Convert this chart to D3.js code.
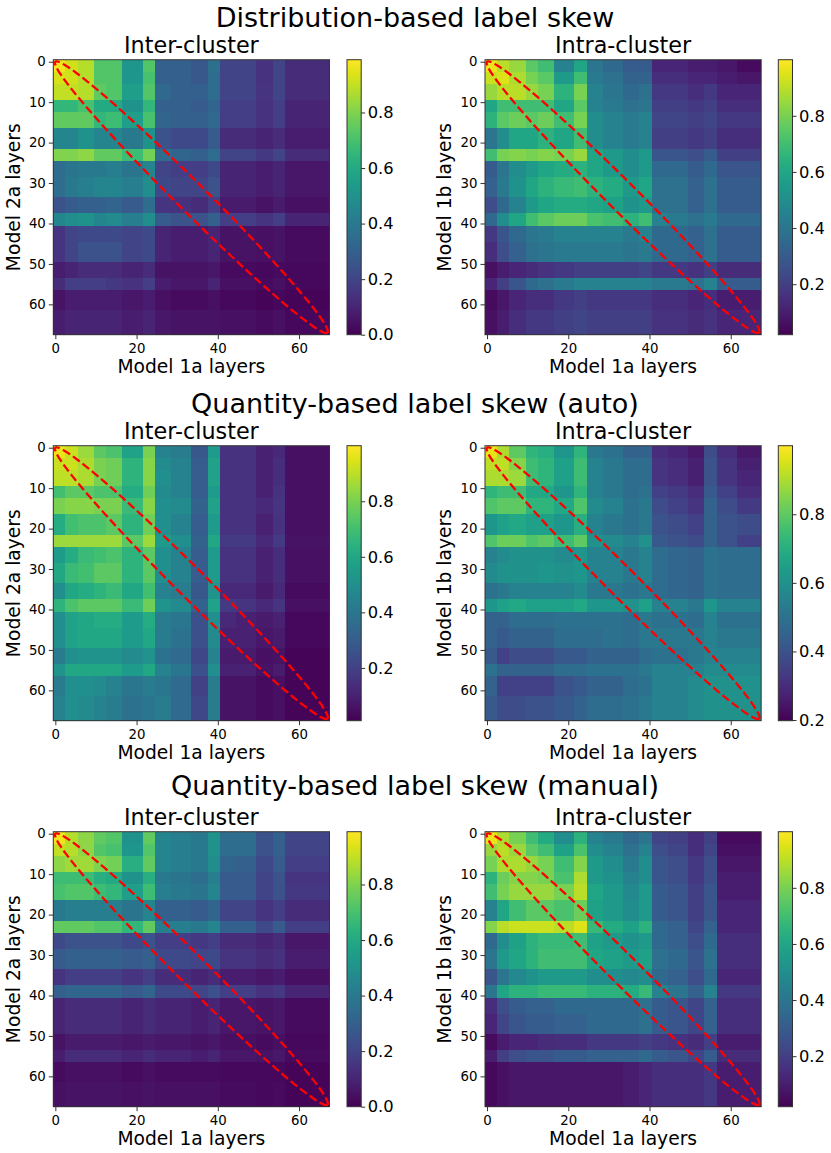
<!DOCTYPE html>
<meta charset="utf-8">
<style>
body { margin: 0; background: #fff; }
svg { font-family: "DejaVu Sans", sans-serif; }
.tick line { stroke: #333; }
.tick text { fill: #000; }
</style>
<body></body>
<script src="https://cdn.jsdelivr.net/npm/d3@7"></script>
<script>

// layer bands (segment boundaries) visible in the heatmaps, 68 layers in total
var segBounds = [0, 3, 6, 10, 13, 17, 22, 25, 29, 34, 38, 41, 45, 50, 54, 57, 62, 68];
var nLayers = 68;

var rowTitles = ["Distribution-based label skew", "Quantity-based label skew (auto)", "Quantity-based label skew (manual)"];
var colTitles = ["Inter-cluster", "Intra-cluster"];
var xLabel = "Model 1a layers";
var yLabels = ["Model 2a layers", "Model 1b layers"];
var xTickVals = [0, 20, 40, 60];
var yTickVals = [0, 10, 20, 30, 40, 50, 60];

// similarity per band pair, in percent (rows = y bands, cols = x bands)
var distInter = [
  [97,92,88,72,72,52,72,30,30,27,36,20,20,14,20,12,12],
  [93,92,88,72,72,52,70,30,30,27,35,20,20,14,20,12,12],
  [90,90,88,75,72,55,72,33,30,30,35,20,20,15,20,12,12],
  [65,65,70,60,60,50,65,30,30,28,32,18,18,14,18,10,10],
  [75,75,75,65,68,55,70,32,30,30,33,18,18,14,18,10,10],
  [45,45,50,45,45,40,50,25,22,22,28,12,12,10,12, 8, 8],
  [80,80,82,75,75,68,78,35,32,30,35,20,20,16,20,12,12],
  [35,38,40,40,42,38,45,20,18,18,22,10,10, 8,10, 6, 6],
  [35,40,42,45,45,42,48,22,20,20,25,10,10, 8,10, 6, 6],
  [25,28,30,30,32,28,35,15,14,12,18, 7, 7, 5, 7, 4, 4],
  [45,48,50,45,47,42,48,28,25,25,30,18,18,15,18,10,10],
  [15,20,22,22,22,20,22,10, 8, 8,10, 5, 5, 4, 5, 3, 3],
  [15,20,25,25,25,20,22,10, 8, 8,10, 5, 5, 4, 5, 3, 3],
  [ 8,10,12,12,12,10,12, 5, 5, 5, 6, 3, 3, 2, 3, 2, 2],
  [12,18,18,18,16,14,18, 8, 6, 6,10, 4, 4, 3, 4, 2, 2],
  [ 5, 8, 8, 8, 8, 6, 8, 4, 3, 3, 4, 2, 2, 1, 2, 1, 1],
  [ 8,10,10,10,10, 8,10, 6, 5, 5, 5, 4, 4, 3, 4, 2, 2]
];
var distIntra = [
  [97,90,85,75,70,45,60,40,35,30,30,12,12,10,10, 8, 5],
  [92,95,88,80,75,55,70,42,38,33,33,15,15,12,12,10, 8],
  [85,90,90,85,80,65,80,45,40,35,38,18,18,15,18,12,12],
  [60,70,70,70,70,60,75,45,42,38,40,20,20,18,20,15,15],
  [65,75,78,75,78,70,80,50,45,42,45,22,22,20,22,18,18],
  [40,50,60,60,65,60,70,50,45,42,45,20,20,18,20,15,15],
  [70,80,82,80,82,80,85,60,55,50,55,28,28,25,30,20,20],
  [30,40,50,55,60,62,65,60,55,50,55,35,35,30,35,28,28],
  [32,42,52,60,65,68,70,65,62,55,60,38,38,32,38,30,30],
  [25,35,45,55,60,62,62,60,58,52,55,38,38,32,38,30,30],
  [35,50,60,70,75,78,78,72,70,65,70,45,42,38,42,35,35],
  [18,28,35,40,42,45,45,45,45,42,45,35,35,32,38,30,30],
  [15,25,32,38,40,42,42,42,42,40,42,35,35,32,38,30,30],
  [ 6,10,12,14,16,18,20,20,20,20,22,18,18,16,20,14,14],
  [12,20,28,35,38,42,45,45,45,45,45,42,42,38,45,30,30],
  [ 5, 8,12,15,15,18,20,18,18,18,18,15,15,12,15,10,10],
  [ 6,10,15,18,18,20,22,20,20,20,20,16,16,14,16,12,12]
];
var autoInter = [
  [97,92,85,75,72,58,80,45,42,28,55,15,15,10,12, 5, 5],
  [92,92,88,80,78,65,82,48,45,30,58,15,15,10,14, 5, 5],
  [90,90,88,80,78,65,82,50,45,30,58,15,15,10,14, 5, 5],
  [70,75,75,72,72,62,78,48,45,30,55,15,15,10,15, 5, 5],
  [80,82,82,80,80,68,82,50,48,32,58,15,15,12,16, 5, 5],
  [62,70,72,72,75,65,78,50,45,30,55,15,15,10,15, 5, 5],
  [85,85,85,85,85,75,85,55,50,32,60,18,18,12,18, 6, 6],
  [55,62,68,70,72,65,75,50,45,30,55,15,15,10,14, 5, 5],
  [60,68,70,75,75,65,75,50,45,30,55,15,15,10,14, 5, 5],
  [50,60,62,65,68,60,70,45,42,28,52,12,12, 8,12, 4, 4],
  [65,72,75,75,75,68,78,52,48,32,58,18,16,12,16, 5, 5],
  [50,58,60,62,62,55,62,42,40,25,50,12,10, 8,10, 3, 3],
  [50,58,60,60,60,55,60,42,38,25,48,10,10, 7, 8, 3, 3],
  [42,50,52,52,52,48,52,38,35,22,45, 8, 8, 5, 6, 2, 2],
  [52,60,60,60,60,55,60,45,40,25,50,10,10, 6, 8, 2, 2],
  [42,50,50,48,45,40,42,40,35,20,42, 6, 6, 4, 5, 2, 2],
  [45,50,48,45,42,38,40,42,35,22,42, 6, 6, 4, 5, 2, 2]
];
var autoIntra = [
  [97,90,80,72,70,62,72,52,50,45,45,30,28,25,38,30,25],
  [92,92,85,75,72,65,75,55,52,48,48,32,30,27,40,32,27],
  [90,90,88,75,72,65,75,55,52,48,48,32,30,27,40,32,28],
  [72,75,75,68,68,62,72,55,52,48,50,35,33,30,42,35,30],
  [78,80,80,72,72,68,78,58,55,50,52,38,35,32,45,38,33],
  [62,65,68,65,65,62,70,55,52,50,52,40,38,35,45,40,38],
  [78,82,82,78,80,75,80,60,58,55,60,42,40,38,45,40,35],
  [55,58,60,60,60,58,62,55,55,52,55,48,46,45,50,48,48],
  [58,60,60,60,62,60,62,55,55,52,55,48,46,45,50,48,48],
  [50,52,55,55,55,55,58,52,52,50,52,48,46,45,50,48,48],
  [62,65,68,65,65,65,68,62,62,60,65,55,55,52,62,55,55],
  [45,45,48,48,48,50,50,50,50,48,52,50,50,48,55,50,50],
  [45,42,45,45,45,48,48,48,50,48,52,52,52,52,55,52,52],
  [42,35,38,38,38,42,42,45,45,45,48,50,50,52,55,55,55],
  [50,45,45,45,45,48,48,50,50,50,52,55,55,55,58,58,58],
  [45,35,35,35,35,40,42,45,45,48,50,55,55,58,60,60,60],
  [42,38,38,40,40,42,45,48,48,50,52,55,55,58,60,60,60]
];
var manualInter = [
  [97,88,82,75,72,50,75,45,42,40,50,35,35,25,30,20,20],
  [90,88,82,72,70,52,72,45,42,40,50,35,35,25,30,20,20],
  [82,85,85,80,78,62,75,45,42,40,48,32,30,22,28,18,18],
  [68,68,68,62,60,50,62,40,38,35,42,28,28,20,25,15,15],
  [70,72,72,68,65,55,68,42,40,38,45,28,28,20,25,16,16],
  [40,42,42,42,42,38,45,30,30,28,32,20,20,15,18,12,12],
  [75,75,75,72,72,65,75,42,42,40,45,30,30,22,28,18,18],
  [22,25,25,25,25,22,25,18,18,16,18,12,12,10,12, 6, 6],
  [28,30,30,30,30,28,30,22,22,20,22,15,15,12,14, 8, 8],
  [15,18,18,18,18,15,18,12,12,10,12, 8, 8, 6, 8, 4, 4],
  [30,32,32,32,32,28,32,22,22,20,24,18,18,14,16,10,10],
  [10,12,12,12,12,10,12,10,10, 8,10, 6, 6, 5, 6, 3, 3],
  [10,12,12,12,12,10,12,10,10, 8,10, 6, 6, 5, 6, 3, 3],
  [ 5, 7, 7, 7, 7, 6, 7, 6, 6, 5, 6, 4, 4, 3, 4, 2, 2],
  [ 8,12,12,12,12,10,12,10,10, 8,10, 6, 6, 5, 6, 3, 3],
  [ 3, 4, 4, 4, 4, 3, 4, 3, 3, 3, 3, 2, 2, 2, 2, 1, 1],
  [ 4, 5, 5, 5, 5, 4, 5, 4, 4, 4, 4, 3, 3, 2, 3, 1, 1]
];
var manualIntra = [
  [97,88,80,70,62,50,65,45,42,35,40,22,20,15,20, 5, 5],
  [85,90,85,75,70,58,72,50,45,38,45,25,22,15,22, 6, 6],
  [80,88,88,85,80,70,82,55,50,42,50,28,25,18,25, 8, 8],
  [65,78,82,82,80,72,88,55,52,45,50,28,25,18,25,10,10],
  [70,80,85,85,85,80,90,60,55,48,55,30,28,20,28,10,10],
  [45,60,70,75,75,72,78,58,55,50,55,30,28,20,28,12,12],
  [82,90,92,92,92,90,95,68,62,58,65,35,32,22,32,12,12],
  [35,50,58,65,68,68,70,58,55,52,55,35,32,25,35,15,15],
  [40,55,60,65,70,70,70,60,58,55,58,38,35,28,38,15,15],
  [28,40,48,52,55,55,55,50,50,48,50,35,32,25,35,12,12],
  [40,60,65,65,68,68,68,65,65,62,68,45,40,32,45,18,18],
  [15,25,30,32,32,35,35,35,35,35,38,30,28,22,32,15,15],
  [12,22,28,30,30,32,32,35,35,35,38,30,28,22,32,15,15],
  [ 5,10,12,12,14,15,15,18,18,18,20,18,16,14,20,10,10],
  [10,20,25,28,28,30,30,32,32,32,35,30,28,22,30,14,14],
  [ 4, 6, 8, 8, 8, 8, 8, 8, 8,10,12,15,15,15,18,10,10],
  [ 4, 6, 8, 8, 8, 8, 8, 8, 8,10,12,15,15,15,18,10,10]
];

// colour range of each colorbar and its ticks
var cbDomains = [[0, 0.99], [0.02, 1.0], [0.01, 1.0], [0.198, 1.0], [0, 0.99], [0.02, 1.0]];
var cbTicks = [[0, 0.2, 0.4, 0.6, 0.8], [0.2, 0.4, 0.6, 0.8], [0.2, 0.4, 0.6, 0.8],
               [0.2, 0.4, 0.6, 0.8], [0, 0.2, 0.4, 0.6, 0.8], [0.2, 0.4, 0.6, 0.8]];

var matrices = [distInter, distIntra, autoInter, autoIntra, manualInter, manualIntra];

// layout
var W = 831, H = 1153;
var rowTop = [59.7, 445.7, 831.7];
var supY = [27, 413, 795];
var colLeft = [53.3, 485];
var cbLeft = [347, 778.3];
var hmW = 276.2, hmH = 275, cbW = 14.2;

var svg = d3.select("body").append("svg")
    .attr("width", W)
    .attr("height", H);
svg.append("rect").attr("width", W).attr("height", H).attr("fill", "#fff");

var x = d3.scaleLinear().domain([-0.5, nLayers - 0.5]).range([0, hmW]);
var y = d3.scaleLinear().domain([-0.5, nLayers - 0.5]).range([0, hmH]);

// ellipse around the diagonal
var ell = {cx: 33.5, cy: 33.5, a: 33.5 * Math.SQRT2, b: 3.6};
var ellPts = d3.range(0, 361, 2).map(function(deg) {
  var t = deg * Math.PI / 180;
  var u = ell.a * Math.cos(t), v = ell.b * Math.sin(t);
  return [ell.cx + (u - v) / Math.SQRT2, ell.cy + (u + v) / Math.SQRT2];
});
var ellLine = d3.line().x(function(d) { return x(d[0]); }).y(function(d) { return y(d[1]); });

rowTitles.forEach(function(t, r) {
  svg.append("text")
      .attr("x", 415)
      .attr("y", supY[r])
      .attr("text-anchor", "middle")
      .attr("font-size", 27)
      .text(t);
});

matrices.forEach(function(mat, k) {
  var r = Math.floor(k / 2), c = k % 2;
  var dom = cbDomains[k];
  var color = d3.scaleSequential(d3.interpolateViridis).domain(dom).clamp(true);

  var g = svg.append("g")
      .attr("transform", "translate(" + colLeft[c] + "," + rowTop[r] + ")");

  // cells
  var cells = [];
  mat.forEach(function(row, i) {
    row.forEach(function(v, j) {
      cells.push({i: i, j: j, v: v / 100});
    });
  });
  g.append("g")
    .selectAll("rect")
    .data(cells)
    .enter().append("rect")
      .attr("x", function(d) { return x(segBounds[d.j] - 0.5); })
      .attr("y", function(d) { return y(segBounds[d.i] - 0.5); })
      .attr("width", function(d) { return x(segBounds[d.j + 1] - 0.5) - x(segBounds[d.j] - 0.5); })
      .attr("height", function(d) { return y(segBounds[d.i + 1] - 0.5) - y(segBounds[d.i] - 0.5); })
      .attr("fill", function(d) { return color(d.v); })
      .attr("shape-rendering", "crispEdges");

  g.append("path")
      .attr("d", ellLine(ellPts))
      .attr("fill", "none")
      .attr("stroke", "#ff0000")
      .attr("stroke-width", 2.3)
      .attr("stroke-dasharray", "8.5,3.5");

  g.append("rect")
      .attr("width", hmW).attr("height", hmH)
      .attr("fill", "none").attr("stroke", "#333").attr("stroke-width", 1);

  var xa = g.append("g")
      .attr("transform", "translate(0," + hmH + ")")
      .call(d3.axisBottom(x).tickValues(xTickVals).tickSize(4.5).tickPadding(4).tickSizeOuter(0));
  var ya = g.append("g")
      .call(d3.axisLeft(y).tickValues(yTickVals).tickSize(4.5).tickPadding(3).tickSizeOuter(0));
  [xa, ya].forEach(function(a) {
    a.select(".domain").remove();
    a.attr("font-family", null).attr("font-size", 13.3);
  });

  g.append("text")
      .attr("x", hmW / 2).attr("y", -6.5)
      .attr("text-anchor", "middle").attr("font-size", 22.3)
      .text(colTitles[c]);
  g.append("text")
      .attr("x", hmW / 2).attr("y", hmH + 38)
      .attr("text-anchor", "middle").attr("font-size", 18.7)
      .text(xLabel);
  g.append("text")
      .attr("transform", "translate(-33.8," + (hmH / 2) + ") rotate(-90)")
      .attr("text-anchor", "middle").attr("font-size", 18.7)
      .text(yLabels[c]);

  // colorbar
  var gid = "cb" + k;
  var grad = svg.append("defs").append("linearGradient")
      .attr("id", gid)
      .attr("x1", 0).attr("y1", 1).attr("x2", 0).attr("y2", 0);
  d3.range(0, 1.0001, 0.05).forEach(function(t) {
    grad.append("stop")
        .attr("offset", t)
        .attr("stop-color", d3.interpolateViridis(t));
  });
  var cbg = svg.append("g")
      .attr("transform", "translate(" + cbLeft[c] + "," + rowTop[r] + ")");
  cbg.append("rect")
      .attr("width", cbW).attr("height", hmH)
      .attr("fill", "url(#" + gid + ")")
      .attr("stroke", "#333").attr("stroke-width", 1);
  var cy = d3.scaleLinear().domain(dom).range([hmH, 0]);
  var cba = cbg.append("g")
      .attr("transform", "translate(" + cbW + ",0)")
      .call(d3.axisRight(cy).tickValues(cbTicks[k]).tickFormat(d3.format(".1f"))
            .tickSize(4).tickPadding(2.5).tickSizeOuter(0));
  cba.select(".domain").remove();
  cba.attr("font-family", null).attr("font-size", 16.3);
});

</script>
